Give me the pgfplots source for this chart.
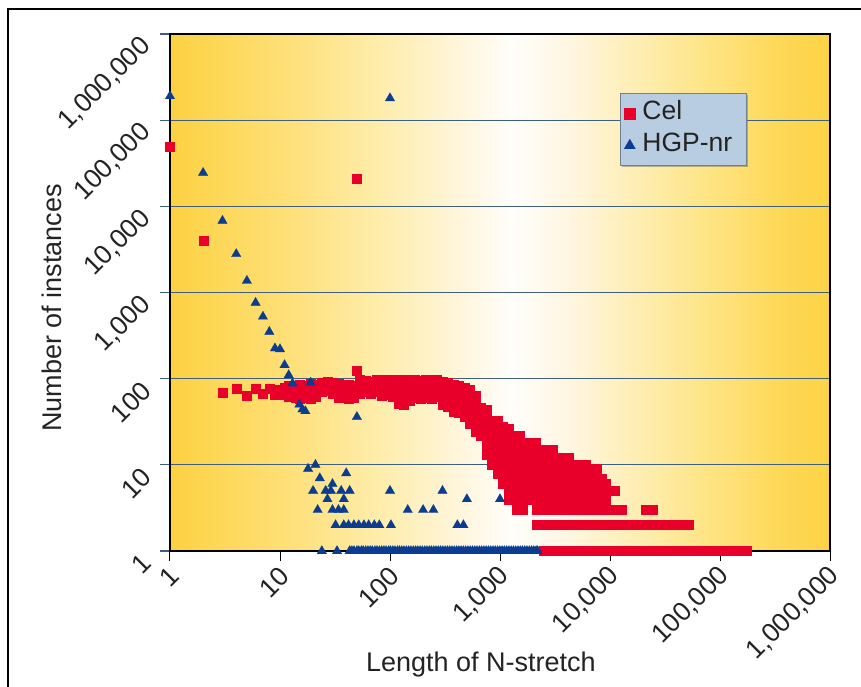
\documentclass[border=0pt]{standalone}
\usepackage{fontspec}
\setmainfont{Liberation Sans}
\usepackage{pgfplots}
\pgfplotsset{compat=1.18}
\usetikzlibrary{shadows}
\definecolor{celred}{RGB}{232,0,42}
\definecolor{hgpblue}{RGB}{10,60,145}
\definecolor{gridcol}{RGB}{62,95,125}
\definecolor{legfill}{RGB}{184,205,225}
\definecolor{legdraw}{RGB}{110,130,150}
\definecolor{labcol}{RGB}{35,35,35}
\pgfdeclarehorizontalshading{bgshade}{100bp}{%
rgb(0bp)=(0.992,0.816,0.255);
rgb(25bp)=(0.992,0.816,0.255);
rgb(28bp)=(0.992,0.840,0.330);
rgb(33.5bp)=(0.996,0.875,0.460);
rgb(41.5bp)=(0.996,0.933,0.690);
rgb(47bp)=(1,0.963,0.862);
rgb(51bp)=(1,0.995,0.985);
rgb(55bp)=(1,0.967,0.890);
rgb(58.5bp)=(0.996,0.945,0.765);
rgb(65bp)=(0.996,0.900,0.545);
rgb(71bp)=(0.994,0.850,0.345);
rgb(75bp)=(0.992,0.825,0.270);
rgb(100bp)=(0.992,0.825,0.270)}
\begin{document}
\begin{tikzpicture}
\useasboundingbox (-170pt,-136pt) rectangle (691pt,551pt);
\begin{axis}[
  at={(0pt,0pt)}, anchor=south west,
  width=660pt, height=517pt, scale only axis,
  xmode=log, ymode=log, log basis x=10, log basis y=10,
  xmin=1, xmax=1000000, ymin=1, ymax=1000000,
  axis background/.style={shade, shading=bgshade},
  axis line style={black, line width=1.3pt},
  xtick={1,10,100,1000,10000,100000,1000000},
  ytick={1,10,100,1000,10000,100000,1000000},
  xticklabels={1,10,100,{1,000},{10,000},{100,000},{1,000,000}},
  yticklabels={1,10,100,{1,000},{10,000},{100,000},{1,000,000}},
  minor tick num=0,
  tick pos=left, tick align=outside, major tick length=10pt,
  xtick style={black, line width=1pt},
  ytick style={gridcol, line width=1.2pt},
  ymajorgrids, major grid style={gridcol, line width=1.2pt},
  ticklabel style={font=\fontsize{26.5}{30}\selectfont, text=labcol},
  xticklabel style={rotate=45, anchor=east, inner sep=0pt, xshift=-4pt, yshift=-11pt},
  yticklabel style={rotate=45, anchor=east, inner sep=0pt, xshift=-15pt, yshift=4pt},
  label style={font=\fontsize{27}{32}\selectfont, text=labcol},
  xlabel={Length of N-stretch},
  ylabel={Number of instances},
  xlabel style={at={(axis description cs:0.471,-0.22)}, anchor=center},
  ylabel style={at={(axis description cs:-0.179,0.470)}, anchor=center},
  legend style={at={(axis description cs:0.874,0.886)}, anchor=north east,
    fill=legfill, draw=legdraw, line width=0.8pt,
    font=\fontsize{26.5}{30}\selectfont, text=labcol,
    inner xsep=4pt, inner ysep=5.5pt, row sep=2.5pt, column sep=5pt,
    nodes={inner sep=2pt, text height=18.5pt, text depth=7pt, text width=98pt, align=left},
    cells={anchor=west},
    drop shadow={shadow xshift=1.5pt, shadow yshift=-1.5pt, fill=black!55}},
  legend image code/.code={\draw[mark repeat=2, mark phase=2, #1] plot coordinates {(0pt,0pt) (6pt,0pt) (12pt,0pt)};},
]
\addplot+[only marks, mark=square*, mark size=4.5pt,
  mark options={solid, fill=celred, draw=celred, line width=0.2pt},
  legend image post style={mark size=5.5pt}]
coordinates {
(1,50000) (2,4000) (50,21000) (50,125)
(3,69) (4,77) (5,63) (6,77) (7,67) (8,77) (9,65) (10,74)
(11,65) (11,78)
(12,62) (12,72) (12,84)
(14,60) (14,70) (14,82)
(15,58) (15,68) (15,80) (15,86)
(17,60) (17,70) (17,82)
(19,59) (19,68) (19,80) (19,88)
(21,62) (21,72) (21,85)
(24,70) (24,80) (24,90)
(27,72) (27,82) (27,92)
(30,68) (30,80) (30,90)
(34,60) (34,70) (34,82) (34,88)
(38,62) (38,72) (38,85)
(42,58) (42,68) (42,80) (42,86)
(47,60) (47,70) (47,82)
(53,68) (53,78) (53,90) (53,98)
(60,70) (60,80) (60,95)
(67,68) (67,80) (67,92)
(75,70) (75,82) (75,97)
(84,64) (84,74) (84,86) (84,98)
(95,65) (95,76) (95,88) (95,98)
(106,62) (106,72) (106,85) (106,97)
(119,52) (119,62) (119,72) (119,85) (119,98)
(134,50) (134,60) (134,72) (134,85) (134,98)
(150,55) (150,68) (150,82) (150,97)
(168,60) (168,72) (168,85) (168,98)
(189,58) (189,70) (189,82) (189,95)
(212,60) (212,72) (212,85) (212,98)
(238,58) (238,70) (238,84) (238,97)
(267,62) (267,75) (267,88) (267,98)
(300,50) (300,58) (300,70) (300,82) (300,93)
(336,48) (336,56) (336,66) (336,78) (336,90)
(377,42) (377,50) (377,60) (377,72) (377,85)
(423,40) (423,48) (423,58) (423,70) (423,84)
(475,36) (475,44) (475,54) (475,66) (475,78)
(533,30) (533,38) (533,46) (533,56) (533,68) (533,74)
(598,24) (598,30) (598,38) (598,46) (598,56) (598,64)
(671,22) (671,27) (671,33) (671,40) (671,46)
(753,13) (753,16) (753,20) (753,25) (753,31) (753,38) (753,44)
(845,10) (845,12) (845,15) (845,18) (845,22) (845,27) (845,33)
(948,8) (948,10) (948,12) (948,15) (948,18) (948,22) (948,27) (948,33)
(1064,6) (1064,7) (1064,8) (1064,10) (1064,12) (1064,15) (1064,18) (1064,22) (1064,28)
(1194,4) (1194,5) (1194,6) (1194,7) (1194,8) (1194,10) (1194,12) (1194,15) (1194,18) (1194,22) (1194,26)
(1340,4) (1340,5) (1340,6) (1340,7) (1340,8) (1340,10) (1340,12) (1340,15) (1340,18) (1340,22)
(1503,4) (1503,5) (1503,6) (1503,7) (1503,8) (1503,10) (1503,12) (1503,15) (1503,18) (1503,22)
(1687,4) (1687,5) (1687,6) (1687,7) (1687,8) (1687,10) (1687,12) (1687,15) (1687,18)
(1893,4) (1893,5) (1893,6) (1893,7) (1893,8) (1893,10) (1893,12) (1893,15) (1893,18)
(2124,4) (2124,5) (2124,6) (2124,7) (2124,8) (2124,10) (2124,12) (2124,15) (2124,18)
(2383,4) (2383,5) (2383,6) (2383,7) (2383,8) (2383,10) (2383,12) (2383,15)
(2674,4) (2674,5) (2674,6) (2674,7) (2674,8) (2674,10) (2674,12) (2674,15)
(3000,4) (3000,5) (3000,6) (3000,7) (3000,8) (3000,10) (3000,12) (3000,15)
(3366,4) (3366,5) (3366,6) (3366,7) (3366,8) (3366,10) (3366,12)
(3777,4) (3777,5) (3777,6) (3777,7) (3777,8) (3777,10) (3777,12)
(4238,4) (4238,5) (4238,6) (4238,7) (4238,8) (4238,10) (4238,12)
(4755,4) (4755,5) (4755,6) (4755,7) (4755,8) (4755,10)
(5335,4) (5335,5) (5335,6) (5335,7) (5335,8) (5335,10)
(5986,4) (5986,5) (5986,6) (5986,7) (5986,8) (5986,10)
(6717,4) (6717,5) (6717,6) (6717,7) (6717,8) (6717,9)
(7536,4) (7536,5) (7536,6) (7536,7) (7536,8) (7536,9)
(8456,4) (8456,5) (8456,6) (8456,7)
(9100,4) (9100,5) (9100,6)
(10900,5)
(1410,3) (1500,3) (1620,3) (2150,3) (2400,3) (2700,3) (3000,3) (3400,3) (3800,3) (4250,3) (4750,3) (5300,3) (6000,3) (6700,3) (7500,3) (8400,3) (9500,3) (10600,3) (11900,3) (12700,3) (21000,3) (23000,3) (24300,3)
(2150,2) (2400,2) (2700,2) (3000,2) (3400,2) (3800,2) (4250,2) (4750,2) (5300,2) (6000,2) (6700,2) (7500,2) (8400,2) (9500,2) (10600,2) (11900,2) (13400,2) (15000,2) (16800,2) (18900,2) (21200,2) (23800,2) (26700,2) (30000,2) (33600,2) (37700,2) (42300,2) (47500,2) (51600,2)
(2480,1) (2700,1) (3000,1) (3400,1) (3800,1) (4250,1) (4750,1) (5300,1) (6000,1) (6700,1) (7500,1) (8400,1) (9500,1) (10600,1) (11900,1) (13400,1) (15000,1) (16800,1) (18900,1) (21200,1) (23800,1) (26700,1) (30000,1) (33600,1) (37700,1) (42300,1) (47500,1) (53300,1) (59800,1) (67100,1) (75300,1) (84500,1) (94800,1) (106000,1) (119000,1) (134000,1) (150000,1) (168000,1) (173000,1)
};
\addlegendentry{Cel}
\addplot+[only marks, mark=triangle*, mark size=5.5pt,
  mark options={solid, fill=hgpblue, draw=hgpblue, line width=0.2pt},
  legend image post style={mark size=6.5pt}]
coordinates {
(1,190000) (100,180000) (2,24500) (3,6800) (4,2800) (5,1370) (6,760) (7,525) (8,350) (9,225) (10,220) (11,144) (12,110) (13,88) (15,50) (16,44) (17,42) (19,90) (50,36)
(21,10) (18,9) (40,8) (23,7) (30,6)
(20,5) (26,5) (29,5) (36,5) (43,5) (100,5) (300,5)
(27,4) (38,4) (500,4) (1000,4)
(22,3) (30,3) (34,3) (38,3) (145,3) (200,3) (248,3)
(32,2) (38,2) (42,2) (47,2) (52,2) (58,2) (64,2) (72,2) (80,2) (102,2) (410,2) (465,2)
(24,1) (33,1) (43,1) (45,1) (47,1) (50,1) (52,1) (55,1) (57,1) (60,1) (63,1) (66,1) (69,1) (73,1) (76,1) (80,1) (84,1) (88,1) (92,1) (97,1) (101,1) (106,1) (111,1) (117,1) (122,1) (128,1) (134,1) (141,1) (148,1) (155,1) (163,1) (171,1) (179,1) (188,1) (197,1) (207,1) (217,1) (228,1) (238,1) (250,1) (262,1) (275,1) (288,1) (302,1) (317,1) (333,1) (349,1) (366,1) (384,1) (403,1) (422,1) (443,1) (464,1) (487,1) (511,1) (536,1) (562,1) (590,1) (618,1) (649,1) (680,1) (714,1) (748,1) (785,1) (823,1) (864,1) (905,1) (950,1) (996,1) (1045,1) (1095,1) (1150,1) (1205,1) (1265,1) (1325,1) (1390,1) (1460,1) (1530,1) (1600,1) (1680,1) (1760,1) (1850,1) (1940,1) (2030,1) (2130,1) (2200,1)
};
\addlegendentry{HGP-nr}
\end{axis}
\draw[line width=2.5pt, black] (-162pt,-140pt) -- (-162pt,542pt) -- (700pt,542pt);
\end{tikzpicture}
\end{document}
